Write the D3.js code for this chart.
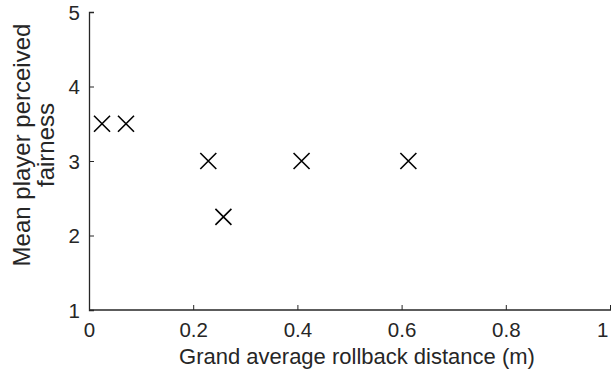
<!DOCTYPE html>
<html lang="en">
<head>
    <meta charset="UTF-8">
    <script src="https://d3js.org/d3.v7.min.js"></script>
    <title>Rollback vs fairness</title>
    <style>
        body { margin: 0; background: #fff; }
        svg { display: block; }
        text { font-family: "Liberation Sans", Arial, sans-serif; fill: #262626; }
    </style>
</head>
<body>
    <script>
        // data
        const rollback = [0.025, 0.071, 0.229, 0.258, 0.408, 0.613];
        const fairness = [3.5, 3.5, 3, 2.25, 3, 3];
        const xTicks = [0, 0.2, 0.4, 0.6, 0.8, 1];
        const yTicks = [1, 2, 3, 4, 5];
        const xTitle = "Grand average rollback distance (m)";
        const yTitle = ["Mean player perceived", "fairness"];

        const width = 611;
        const height = 373;
        const margin = {top: 12, right: 1, bottom: 63, left: 89};

        const x = d3.scaleLinear()
            .domain([0, 1])
            .range([margin.left, width - margin.right]);
        const y = d3.scaleLinear()
            .domain([1, 5])
            .range([height - margin.bottom, margin.top]);

        const svg = d3.select('body')
            .append('svg')
            .attr('width', width)
            .attr('height', height);

        const axisColor = '#262626';

        const xAxis = svg.append('g')
            .attr('transform', `translate(0, ${y(1)})`)
            .call(d3.axisBottom(x).tickValues(xTicks).tickSize(-5).tickPadding(12)
                .tickFormat(d3.format('~g')));
        const yAxis = svg.append('g')
            .attr('transform', `translate(${x(0)}, 0)`)
            .call(d3.axisLeft(y).tickValues(yTicks).tickSize(-5).tickPadding(9)
                .tickFormat(d3.format('d')));

        [xAxis, yAxis].forEach(g => {
            g.select('.domain').attr('stroke', axisColor).attr('stroke-width', 1.3);
            g.selectAll('.tick line').attr('stroke', axisColor).attr('stroke-width', 1);
            g.selectAll('.tick text')
                .attr('fill', axisColor)
                .style('font-size', '20.5px');
        });
        xAxis.select('.domain').attr('d', `M${x(0)},0H${width}`);
        yAxis.selectAll('.tick text').attr('dy', '0.36em');
        // last x label sits at the figure edge; keep it inside
        xAxis.selectAll('.tick text').filter(d => d === 1).attr('text-anchor', 'end').attr('dx', '-0.1em');

        // x markers
        const s = 8;
        svg.append('g')
            .selectAll('path')
            .data(rollback.map((r, i) => [r, fairness[i]]))
            .join('path')
            .attr('d', d => {
                const cx = x(d[0]), cy = y(d[1]);
                return `M${cx - s},${cy - s}L${cx + s},${cy + s}M${cx - s},${cy + s}L${cx + s},${cy - s}`;
            })
            .attr('stroke', '#000')
            .attr('stroke-width', 1.6)
            .attr('fill', 'none');

        svg.append('text')
            .attr('x', 357)
            .attr('y', 364)
            .attr('text-anchor', 'middle')
            .style('font-size', '22px')
            .text(xTitle);

        const yt = svg.append('text')
            .attr('transform', `translate(30, 145) rotate(-90)`)
            .attr('text-anchor', 'middle')
            .style('font-size', '24px');
        yTitle.forEach((t, i) => {
            yt.append('tspan')
                .attr('x', 0)
                .attr('y', i * 24)
                .text(t);
        });
    </script>
</body>
</html>
